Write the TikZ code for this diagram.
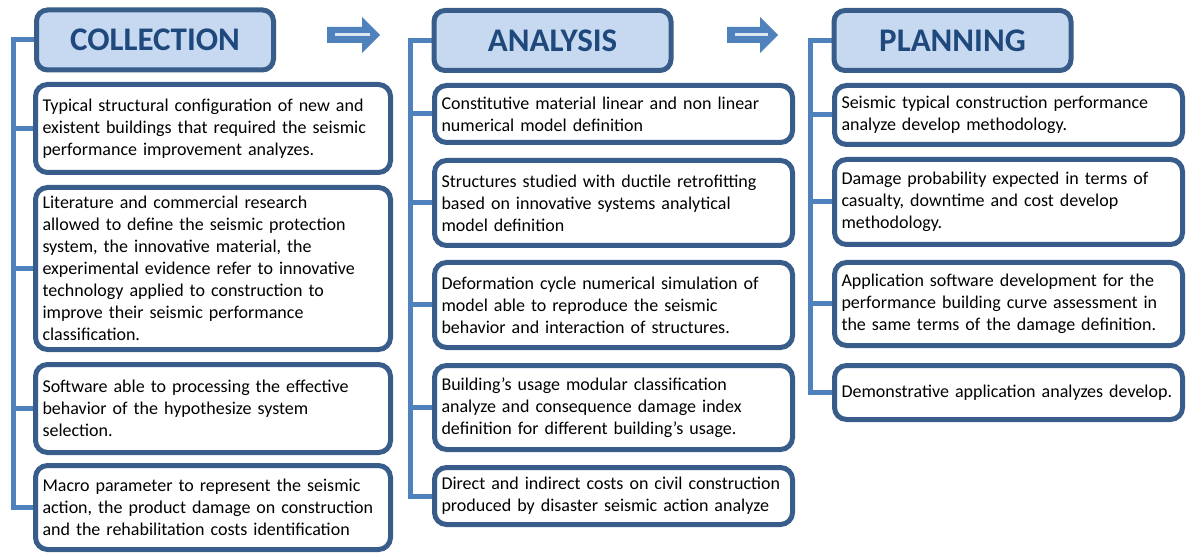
\documentclass[tikz,border=0pt]{standalone}
\usepackage{fontspec}
\setmainfont{Carlito}
\usetikzlibrary{backgrounds}
\definecolor{mframe}{HTML}{385D8A}
\definecolor{mhead}{HTML}{C6D9F1}
\definecolor{mtitle}{HTML}{1F497D}
\definecolor{mlink}{HTML}{4F81BD}
\definecolor{mstripe}{HTML}{DCE6F2}
\tikzset{
  head/.style = {draw=mframe, fill=mhead, line width=5pt, rounded corners=11pt,
    minimum width=237pt, minimum height=60pt, text=mtitle,
    font=\fontsize{33}{36}\selectfont\bfseries},
  item/.style = {draw=mframe, fill=white, line width=5pt, rounded corners=12pt,
    inner xsep=7pt, inner ysep=0pt, align=left, font=\fontsize{18}{22}\selectfont},
  colA/.style = {item, text width=341pt},
  colB/.style = {item, text width=344pt},
  colC/.style = {item, text width=334pt},
  link/.style = {draw=mlink, line width=5pt},
  flow/.style = {fill=mlink}
}

\begin{document}
\begin{tikzpicture}[x=1pt, y=-1pt]
  \useasboundingbox (0,0) rectangle (1186,553);

  % collection
  \node [head] (coll) at (155,40) {COLLECTION};
  \node [colA, minimum height=88pt] (c1a) at (213,128.5)
    {Typical structural configuration of new and\\existent buildings that required the seismic\\performance improvement analyzes.};
  \node [colA, minimum height=162pt] (c1b) at (213,268.5)
    {Literature and commercial research\\allowed to define the seismic protection\\system, the innovative material, the\\experimental evidence refer to innovative\\technology applied to construction to\\improve their seismic performance\\classification.};
  \node [colA, minimum height=88pt] (c1c) at (213,408.5)
    {Software able to processing the effective\\behavior of the hypothesize system\\selection.};
  \node [colA, minimum height=84pt] (c1d) at (213,507.5)
    {Macro parameter to represent the seismic\\action, the product damage on construction\\and the rehabilitation costs identification};

  % analysis
  \node [head] (anal) at (552.5,40.5) {ANALYSIS};
  \node [colB, minimum height=57pt] (c2a) at (613.5,114)
    {Constitutive material linear and non linear\\numerical model definition};
  \node [colB, minimum height=85pt] (c2b) at (613.5,203)
    {Structures studied with ductile retrofitting\\based on innovative systems analytical\\model definition};
  \node [colB, minimum height=85pt] (c2c) at (613.5,305)
    {Deformation cycle numerical simulation of\\model able to reproduce the seismic\\behavior and interaction of structures.};
  \node [colB, minimum height=84pt] (c2d) at (613.5,407.5)
    {Building’s usage modular classification\\analyze and consequence damage index\\definition for different building’s usage.};
  \node [colB, minimum height=57pt] (c2e) at (613.5,496)
    {Direct and indirect costs on civil construction\\produced by disaster seismic action analyze};

  % planning
  \node [head] (plan) at (952.5,40.5) {PLANNING};
  \node [colC, minimum height=59pt] (c3a) at (1008.5,115)
    {Seismic typical construction performance\\analyze develop methodology.};
  \node [colC, minimum height=85pt] (c3b) at (1008.5,202)
    {Damage probability expected in terms of\\casualty, downtime and cost develop\\methodology.};
  \node [colC, minimum height=83pt] (c3c) at (1008.5,304)
    {Application software development for the\\performance building curve assessment in\\the same terms of the damage definition.};
  \node [colC, minimum height=54pt] (c3d) at (1008.5,392.5)
    {Demonstrative application analyzes develop.};

  % arrows between the stages
  \fill [flow] (327,27) -- ++(35,0) -- ++(0,-10) -- ++(18,18) -- ++(-18,18)
    -- ++(0,-10) -- ++(-35,0) -- cycle;
  \draw [mstripe, line width=3pt] (335,35) -- ++(35,0);
  \fill [flow] (727,27) -- ++(33,0) -- ++(0,-10) -- ++(18,18) -- ++(-18,18)
    -- ++(0,-10) -- ++(-33,0) -- cycle;
  \draw [mstripe, line width=3pt] (735,35) -- ++(33,0);

  % brackets
  \coordinate (s1) at (13.5,0);
  \coordinate (s2) at (410.5,0);
  \coordinate (s3) at (810,0);
  \begin{scope}[on background layer]
    \draw [link] (coll.west) -- (coll.west -| s1) -- (c1d.west -| s1) -- (c1d.west);
    \foreach \n in {c1a,c1b,c1c}
      \draw [link] (\n.west) -- (\n.west -| s1);
    \draw [link] (anal.west) -- (anal.west -| s2) -- (c2e.west -| s2) -- (c2e.west);
    \foreach \n in {c2a,c2b,c2c,c2d}
      \draw [link] (\n.west) -- (\n.west -| s2);
    \draw [link] (plan.west) -- (plan.west -| s3) -- (c3d.west -| s3) -- (c3d.west);
    \foreach \n in {c3a,c3b,c3c}
      \draw [link] (\n.west) -- (\n.west -| s3);
  \end{scope}
\end{tikzpicture}
\end{document}
